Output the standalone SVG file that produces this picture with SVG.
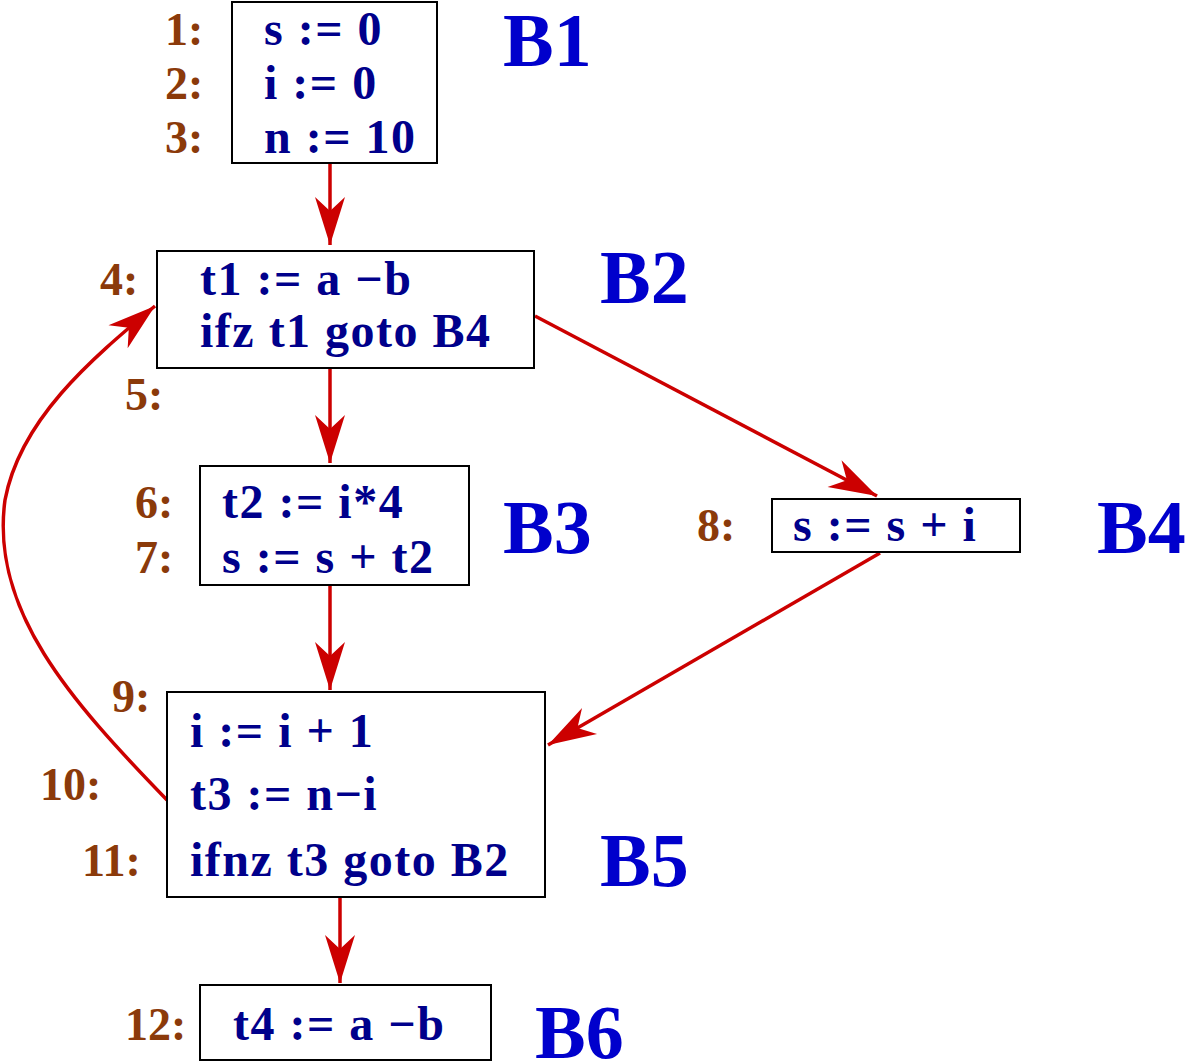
<svg xmlns="http://www.w3.org/2000/svg" width="1185" height="1062" viewBox="0 0 1185 1062">
<style>
.box{fill:#fff;stroke:#000;stroke-width:2}
.code{font-family:"Liberation Serif",serif;font-weight:bold;font-size:48px;letter-spacing:1.5px;fill:#00008B}
.num{font-family:"Liberation Serif",serif;font-weight:bold;font-size:46px;fill:#8B3A0A}
.lbl{font-family:"Liberation Serif",serif;font-weight:bold;font-size:76px;fill:#0000CC}
.edge{fill:none;stroke:#CC0000;stroke-width:3.5}
</style>
<defs>
<marker id="ah" markerUnits="userSpaceOnUse" markerWidth="60" markerHeight="40" viewBox="-50 -20 60 40" refX="0" refY="0" orient="auto">
<path d="M0,0 L-48,-15 L-34,0 L-48,15 Z" fill="#CC0000"/>
</marker>
</defs>
<g id="connectors">
<path class="edge" d="M330,163 L330,245" marker-end="url(#ah)"/>
<path class="edge" d="M330,368 L330,463" marker-end="url(#ah)"/>
<path class="edge" d="M535,316 L877,496" marker-end="url(#ah)"/>
<path class="edge" d="M330,585 L330,690" marker-end="url(#ah)"/>
<path class="edge" d="M880,553 L548,745" marker-end="url(#ah)"/>
<path class="edge" d="M340,897 L340,983" marker-end="url(#ah)"/>
<path class="edge" d="M167,800 C70,700 -10,610 5,500 C20,420 90,360 155,306" marker-end="url(#ah)"/>
</g>
<g id="B1">
<rect class="box" x="232" y="2" width="205" height="161"/>
<text class="code" x="264" y="45">s := 0</text>
<text class="code" x="264" y="99">i := 0</text>
<text class="code" x="264" y="153">n := 10</text>
<text class="num" x="165" y="45">1:</text>
<text class="num" x="165" y="99">2:</text>
<text class="num" x="165" y="153">3:</text>
<text class="lbl" x="503" y="66">B1</text>
</g>
<g id="B2">
<rect class="box" x="157" y="251" width="377" height="117"/>
<text class="code" x="200" y="295">t1 := a −b</text>
<text class="code" x="200" y="347">ifz t1 goto B4</text>
<text class="num" x="100" y="295">4:</text>
<text class="num" x="125" y="410">5:</text>
<text class="lbl" x="600" y="303">B2</text>
</g>
<g id="B3">
<rect class="box" x="200" y="466" width="269" height="119"/>
<text class="code" x="222" y="518">t2 := i*4</text>
<text class="code" x="222" y="573">s := s + t2</text>
<text class="num" x="135" y="518">6:</text>
<text class="num" x="135" y="573">7:</text>
<text class="lbl" x="503" y="553">B3</text>
</g>
<g id="B4">
<rect class="box" x="772" y="499" width="248" height="53"/>
<text class="code" x="793" y="541">s := s + i</text>
<text class="num" x="697" y="541">8:</text>
<text class="lbl" x="1097" y="553">B4</text>
</g>
<g id="B5">
<rect class="box" x="167" y="692" width="378" height="205"/>
<text class="code" x="190" y="747">i := i + 1</text>
<text class="code" x="190" y="810">t3 := n−i</text>
<text class="code" x="190" y="876">ifnz t3 goto B2</text>
<text class="num" x="112" y="712">9:</text>
<text class="num" x="40" y="800">10:</text>
<text class="num" x="82" y="876">11:</text>
<text class="lbl" x="600" y="886">B5</text>
</g>
<g id="B6">
<rect class="box" x="200" y="985" width="291" height="75"/>
<text class="code" x="233" y="1040">t4 := a −b</text>
<text class="num" x="125" y="1040">12:</text>
<text class="lbl" x="535" y="1058">B6</text>
</g>
</svg>
